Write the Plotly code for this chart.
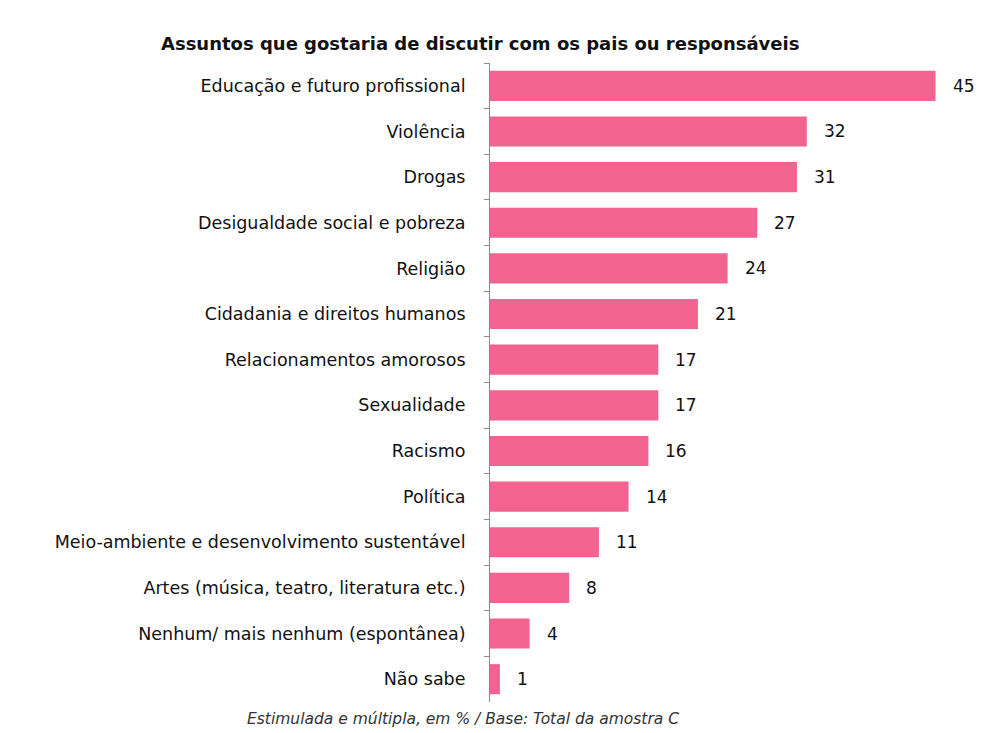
import plotly.graph_objects as go

categories = [
    "Educação e futuro profissional",
    "Violência",
    "Drogas",
    "Desigualdade social e pobreza",
    "Religião",
    "Cidadania e direitos humanos",
    "Relacionamentos amorosos",
    "Sexualidade",
    "Racismo",
    "Política",
    "Meio-ambiente e desenvolvimento sustentável",
    "Artes (música, teatro, literatura etc.)",
    "Nenhum/ mais nenhum (espontânea)",
    "Não sabe",
]
values = [45, 32, 31, 27, 24, 21, 17, 17, 16, 14, 11, 8, 4, 1]

title_text = "Assuntos que gostaria de discutir com os pais ou responsáveis"
footer_text = "Estimulada e múltipla, em % / Base: Total da amostra C"

BAR_COLOR = "#F2638F"
FONT = "DejaVu Sans"

FIG_W, FIG_H = 992, 733
ML, MR, MT, MB = 490, 7, 63, 31
PW = FIG_W - ML - MR
PH = FIG_H - MT - MB


def px_x(px):
    return (px - ML) / PW


def px_y(py):
    return (FIG_H - MB - py) / PH


fig = go.Figure()
fig.add_trace(go.Bar(
    x=values,
    y=categories,
    orientation="h",
    marker=dict(color=BAR_COLOR, line=dict(width=0)),
    hoverinfo="skip",
))

for c, v in zip(categories, values):
    fig.add_annotation(
        x=v, y=c, xref="x", yref="y",
        text=str(v), showarrow=False,
        xanchor="left", yanchor="middle", xshift=15,
        font=dict(family=FONT, size=17, color="#111111"),
    )

fig.add_annotation(
    x=px_x(480), y=px_y(43), xref="paper", yref="paper",
    text="<b>" + title_text + "</b>",
    showarrow=False, xanchor="center", yanchor="middle",
    font=dict(family=FONT, size=18, color="#111111"),
)

fig.add_annotation(
    x=px_x(463), y=px_y(719), xref="paper", yref="paper",
    text="<i>" + footer_text + "</i>",
    showarrow=False, xanchor="center", yanchor="middle",
    font=dict(family=FONT, size=15.5, color="#333333"),
)

fig.update_layout(
    width=FIG_W, height=FIG_H,
    margin=dict(l=ML, r=MR, t=MT, b=MB),
    paper_bgcolor="white", plot_bgcolor="white",
    showlegend=False,
    bargap=0.34,
    xaxis=dict(range=[0, 50], visible=False),
    yaxis=dict(
        categoryorder="array", categoryarray=categories,
        autorange="reversed",
        showline=True, linecolor="#8c8c8c", linewidth=1,
        ticks="outside", ticklen=5, tickcolor="#8c8c8c", tickson="boundaries",
        showgrid=False, zeroline=False,
        ticklabelstandoff=20,
        tickfont=dict(family=FONT, size=17.5, color="#111111"),
    ),
)
fig.write_html("out.html")
